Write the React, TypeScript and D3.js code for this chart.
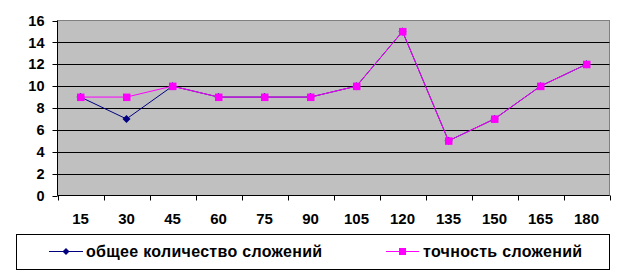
import React from "react";
import * as d3 from "d3";

const categories = ["15", "30", "45", "60", "75", "90", "105", "120", "135", "150", "165", "180"];
const totalAdditions = [9, 7, 10, 9, 9, 9, 10, 15, 5, 7, 10, 12];
const accuracy = [9, 9, 10, 9, 9, 9, 10, 15, 5, 7, 10, 12];
const yTicks = [0, 2, 4, 6, 8, 10, 12, 14, 16];
const seriesNames = ["общее количество сложений", "точность сложений"];

const W = 641;
const H = 276;
const left = 57.5;
const right = 609.5;
const top = 20.5;
const bottom = 195.5;
const FONT = "Arial, 'Liberation Sans', sans-serif";

export default function App() {
  const x = d3.scaleBand<string>().domain(categories).range([left, right]).padding(0);
  const y = d3.scaleLinear().domain([0, 16]).range([bottom, top]);
  const cx = (c: string) => (x(c) as number) + x.bandwidth() / 2;
  const line = d3
    .line<number>()
    .x((_, i) => cx(categories[i]))
    .y((d) => y(d));
  const boundaries = [...categories.map((c) => x(c) as number), right];

  return (
    <svg
      width={W}
      height={H}
      style={{ position: "absolute", left: 0, top: 0, display: "block" }}
      fontFamily={FONT}
    >
      <rect x={0} y={0} width={W} height={H} fill="#fff" />
      <rect x={left} y={top} width={right - left} height={bottom - top} fill="#c0c0c0" stroke="#808080" strokeWidth={1} />
      {yTicks
        .filter((t) => t > 0 && t < 16)
        .map((t) => (
          <line key={t} x1={left} x2={right} y1={Math.round(y(t)) + 0.5} y2={Math.round(y(t)) + 0.5} stroke="#000" strokeWidth={1} />
        ))}
      <line x1={left} x2={left} y1={top} y2={bottom} stroke="#000" />
      <line x1={left} x2={right} y1={bottom} y2={bottom} stroke="#000" />
      {yTicks.map((t) => (
        <g key={t}>
          <line x1={left - 5} x2={left} y1={Math.round(y(t)) + 0.5} y2={Math.round(y(t)) + 0.5} stroke="#000" />
          <text x={44.5} y={y(t)} dy="0.36em" textAnchor="end" fontSize={14.5} fontWeight="bold" fill="#000">
            {t}
          </text>
        </g>
      ))}
      {boundaries.map((b, i) => (
        <line key={i} x1={Math.round(b) + 0.5} x2={Math.round(b) + 0.5} y1={bottom} y2={bottom + 5} stroke="#000" />
      ))}
      {categories.map((c) => (
        <text key={c} x={cx(c)} y={218.5} dy="0.36em" textAnchor="middle" fontSize={15} fontWeight="bold" fill="#000">
          {c}
        </text>
      ))}
      <path d={line(totalAdditions) as string} fill="none" stroke="#000080" strokeWidth={1} />
      {totalAdditions.map((v, i) => {
        const px = cx(categories[i]);
        const py = y(v);
        return <path key={i} d={`M${px},${py - 4}L${px + 4},${py}L${px},${py + 4}L${px - 4},${py}Z`} fill="#000080" />;
      })}
      <path d={line(accuracy) as string} fill="none" stroke="#ff00ff" strokeWidth={1} />
      {accuracy.map((v, i) => {
        const px = cx(categories[i]);
        const py = y(v);
        return <rect key={i} x={px - 3.5} y={py - 3.5} width={7.5} height={7.5} fill="#ff00ff" />;
      })}
      <rect x={16.5} y={234.5} width={593} height={35} fill="#fff" stroke="#000" strokeWidth={1} />
      <line x1={49} x2={83} y1={251.5} y2={251.5} stroke="#000080" />
      <path d="M66,248L69.5,251.5L66,255L62.5,251.5Z" fill="#000080" />
      <text x={86} y={251.5} dy="0.36em" fontSize={16} fontWeight="bold" letterSpacing={0.3} fill="#000">
        {seriesNames[0]}
      </text>
      <line x1={386} x2={419} y1={251.5} y2={251.5} stroke="#ff00ff" />
      <rect x={399} y={248} width={7} height={7} fill="#ff00ff" />
      <text x={423} y={251.5} dy="0.36em" fontSize={16} fontWeight="bold" letterSpacing={0.3} fill="#000">
        {seriesNames[1]}
      </text>
    </svg>
  );
}
